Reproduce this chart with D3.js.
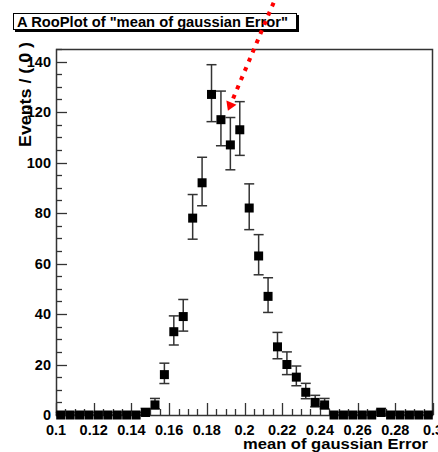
<!DOCTYPE html>
<html>
<head>
<meta charset="utf-8">
<script src="https://cdn.jsdelivr.net/npm/d3@7"></script>
<style>
  body { margin: 0; background: #fff; }
  text { font-family: "Liberation Sans", Arial, sans-serif; font-weight: bold; }
</style>
</head>
<body>
<script>
// bin centres, 40 bins of 0.005 between 0.1 and 0.3
var binStart = 0.1, binWidth = 0.005;
var counts = [0, 0, 0, 0, 0, 0, 0, 0, 0, 1,
              4, 16, 33, 39, 78, 92, 127, 117, 107, 113,
              82, 63, 47, 27, 20, 15, 9, 5, 4, 0,
              0, 0, 0, 0, 1, 0, 0, 0, 0, 0];
var xTicks = [0.1, 0.12, 0.14, 0.16, 0.18, 0.2, 0.22, 0.24, 0.26, 0.28, 0.3];
var xTickLabels = ["0.1", "0.12", "0.14", "0.16", "0.18", "0.2", "0.22", "0.24", "0.26", "0.28", "0.3"];
var yTicks = [0, 20, 40, 60, 80, 100, 120, 140];
var title = "A RooPlot of \"mean of gaussian Error\"";
var xLabel = "mean of gaussian Error";
var yLabel = "Events / ( 0 )";
// arrow annotation in data coords: [x, y] start and tip
var arrowFrom = [0.2175, 167];
var arrowTo = [0.1912, 120.5];

var data = counts.map(function(n, i) {
    return {x: binStart + binWidth * (i + 0.5), n: n};
});

var width = 438, height = 452;
var margin = {top: 49, right: 5, bottom: 37, left: 56};

var svg = d3.select("body").append("svg")
    .attr("width", width)
    .attr("height", height);

var x = d3.scaleLinear().domain([0.1, 0.3]).range([margin.left, width - margin.right]);
var y = d3.scaleLinear().domain([0, 145]).range([height - margin.bottom, margin.top]);

var axisColor = "#333";

// frame
svg.append("rect")
    .attr("x", margin.left + 0.5)
    .attr("y", margin.top + 0.5)
    .attr("width", width - margin.left - margin.right - 1)
    .attr("height", height - margin.top - margin.bottom)
    .attr("fill", "none")
    .attr("stroke", axisColor)
    .attr("stroke-width", 1.5);

// y ticks (inside)
var yMinor = d3.range(0, 146, 5);
svg.append("g").selectAll("line")
    .data(yMinor)
    .enter().append("line")
    .attr("x1", margin.left)
    .attr("x2", function(d) { return margin.left + (d % 20 === 0 ? 11 : 6); })
    .attr("y1", function(d) { return Math.round(y(d)) + 0.5; })
    .attr("y2", function(d) { return Math.round(y(d)) + 0.5; })
    .attr("stroke", axisColor)
    .attr("stroke-width", 1.3);

svg.append("g").selectAll("text")
    .data(yTicks)
    .enter().append("text")
    .attr("x", margin.left - 5)
    .attr("y", function(d) { return y(d); })
    .attr("dy", "0.36em")
    .attr("text-anchor", "end")
    .attr("font-size", "14.5px")
    .attr("fill", "#000")
    .text(function(d) { return d; });

// x ticks (inside)
var xMinor = d3.range(0, 41).map(function(i) { return 0.1 + i * 0.005; });
svg.append("g").selectAll("line")
    .data(xMinor)
    .enter().append("line")
    .attr("x1", function(d) { return Math.round(x(d)) + 0.5; })
    .attr("x2", function(d) { return Math.round(x(d)) + 0.5; })
    .attr("y1", y(0))
    .attr("y2", function(d, i) { return y(0) - (i % 4 === 0 ? 12 : 6); })
    .attr("stroke", axisColor)
    .attr("stroke-width", 1.3);

svg.append("g").selectAll("text")
    .data(xTicks)
    .enter().append("text")
    .attr("x", function(d) { return x(d); })
    .attr("y", y(0) + 20)
    .attr("text-anchor", "middle")
    .attr("font-size", "14.5px")
    .attr("fill", "#000")
    .text(function(d, i) { return xTickLabels[i]; });

// axis titles
svg.append("text")
    .attr("transform", "translate(31,42)rotate(-90)")
    .attr("text-anchor", "end")
    .attr("font-size", "16px")
    .attr("textLength", 105)
    .attr("lengthAdjust", "spacingAndGlyphs")
    .attr("fill", "#000")
    .text(yLabel);

svg.append("text")
    .attr("x", 428)
    .attr("y", 449)
    .attr("text-anchor", "end")
    .attr("font-size", "14.5px")
    .attr("textLength", 185)
    .attr("lengthAdjust", "spacingAndGlyphs")
    .attr("fill", "#000")
    .text(xLabel);

// poisson-style asymmetric errors
function errHi(n) { return 0.5 + Math.sqrt(n + 0.25); }
function errLo(n) { return n > 0 ? Math.sqrt(n + 0.25) - 0.5 : 0; }

var pts = svg.append("g").selectAll("g")
    .data(data)
    .enter().append("g");

pts.append("line")
    .attr("x1", function(d) { return x(d.x); })
    .attr("x2", function(d) { return x(d.x); })
    .attr("y1", function(d) { return y(d.n + errHi(d.n)); })
    .attr("y2", function(d) { return y(d.n - errLo(d.n)); })
    .attr("stroke", axisColor)
    .attr("stroke-width", 1.5);

pts.append("line")
    .attr("x1", function(d) { return x(d.x) - 5; })
    .attr("x2", function(d) { return x(d.x) + 5; })
    .attr("y1", function(d) { return y(d.n + errHi(d.n)); })
    .attr("y2", function(d) { return y(d.n + errHi(d.n)); })
    .attr("stroke", axisColor)
    .attr("stroke-width", 1.5);

pts.append("line")
    .attr("x1", function(d) { return x(d.x) - 5; })
    .attr("x2", function(d) { return x(d.x) + 5; })
    .attr("y1", function(d) { return y(d.n - errLo(d.n)); })
    .attr("y2", function(d) { return y(d.n - errLo(d.n)); })
    .attr("stroke", axisColor)
    .attr("stroke-width", 1.5);

pts.append("rect")
    .attr("x", function(d) { return x(d.x) - 4.5; })
    .attr("y", function(d) { return y(d.n) - 4.5; })
    .attr("width", 9)
    .attr("height", 9)
    .attr("fill", "#000");

// title box with shadow
svg.append("rect")
    .attr("x", 15).attr("y", 15)
    .attr("width", 284).attr("height", 17)
    .attr("fill", "#000");
svg.append("rect")
    .attr("x", 13.5).attr("y", 13.5)
    .attr("width", 283).attr("height", 16)
    .attr("fill", "#fff")
    .attr("stroke", "#000")
    .attr("stroke-width", 1);
svg.append("text")
    .attr("x", 17)
    .attr("y", 26.5)
    .attr("font-size", "14px")
    .attr("textLength", 271)
    .attr("lengthAdjust", "spacingAndGlyphs")
    .attr("fill", "#000")
    .text(title);

// red dotted arrow
var ax0 = x(arrowFrom[0]), ay0 = y(arrowFrom[1]);
var ax1 = x(arrowTo[0]), ay1 = y(arrowTo[1]);
var ang = Math.atan2(ay1 - ay0, ax1 - ax0);
var headLen = 9, headW = 5.5;
var bx = ax1 - headLen * Math.cos(ang), by = ay1 - headLen * Math.sin(ang);

svg.append("line")
    .attr("x1", ax0).attr("y1", ay0)
    .attr("x2", bx).attr("y2", by)
    .attr("stroke", "#ff0000")
    .attr("stroke-width", 4)
    .attr("stroke-dasharray", "4,6");

svg.append("path")
    .attr("d", "M" + ax1 + "," + ay1 +
        "L" + (bx + headW * Math.sin(ang)) + "," + (by - headW * Math.cos(ang)) +
        "L" + (bx - headW * Math.sin(ang)) + "," + (by + headW * Math.cos(ang)) + "Z")
    .attr("fill", "#ff0000");
</script>
</body>
</html>
